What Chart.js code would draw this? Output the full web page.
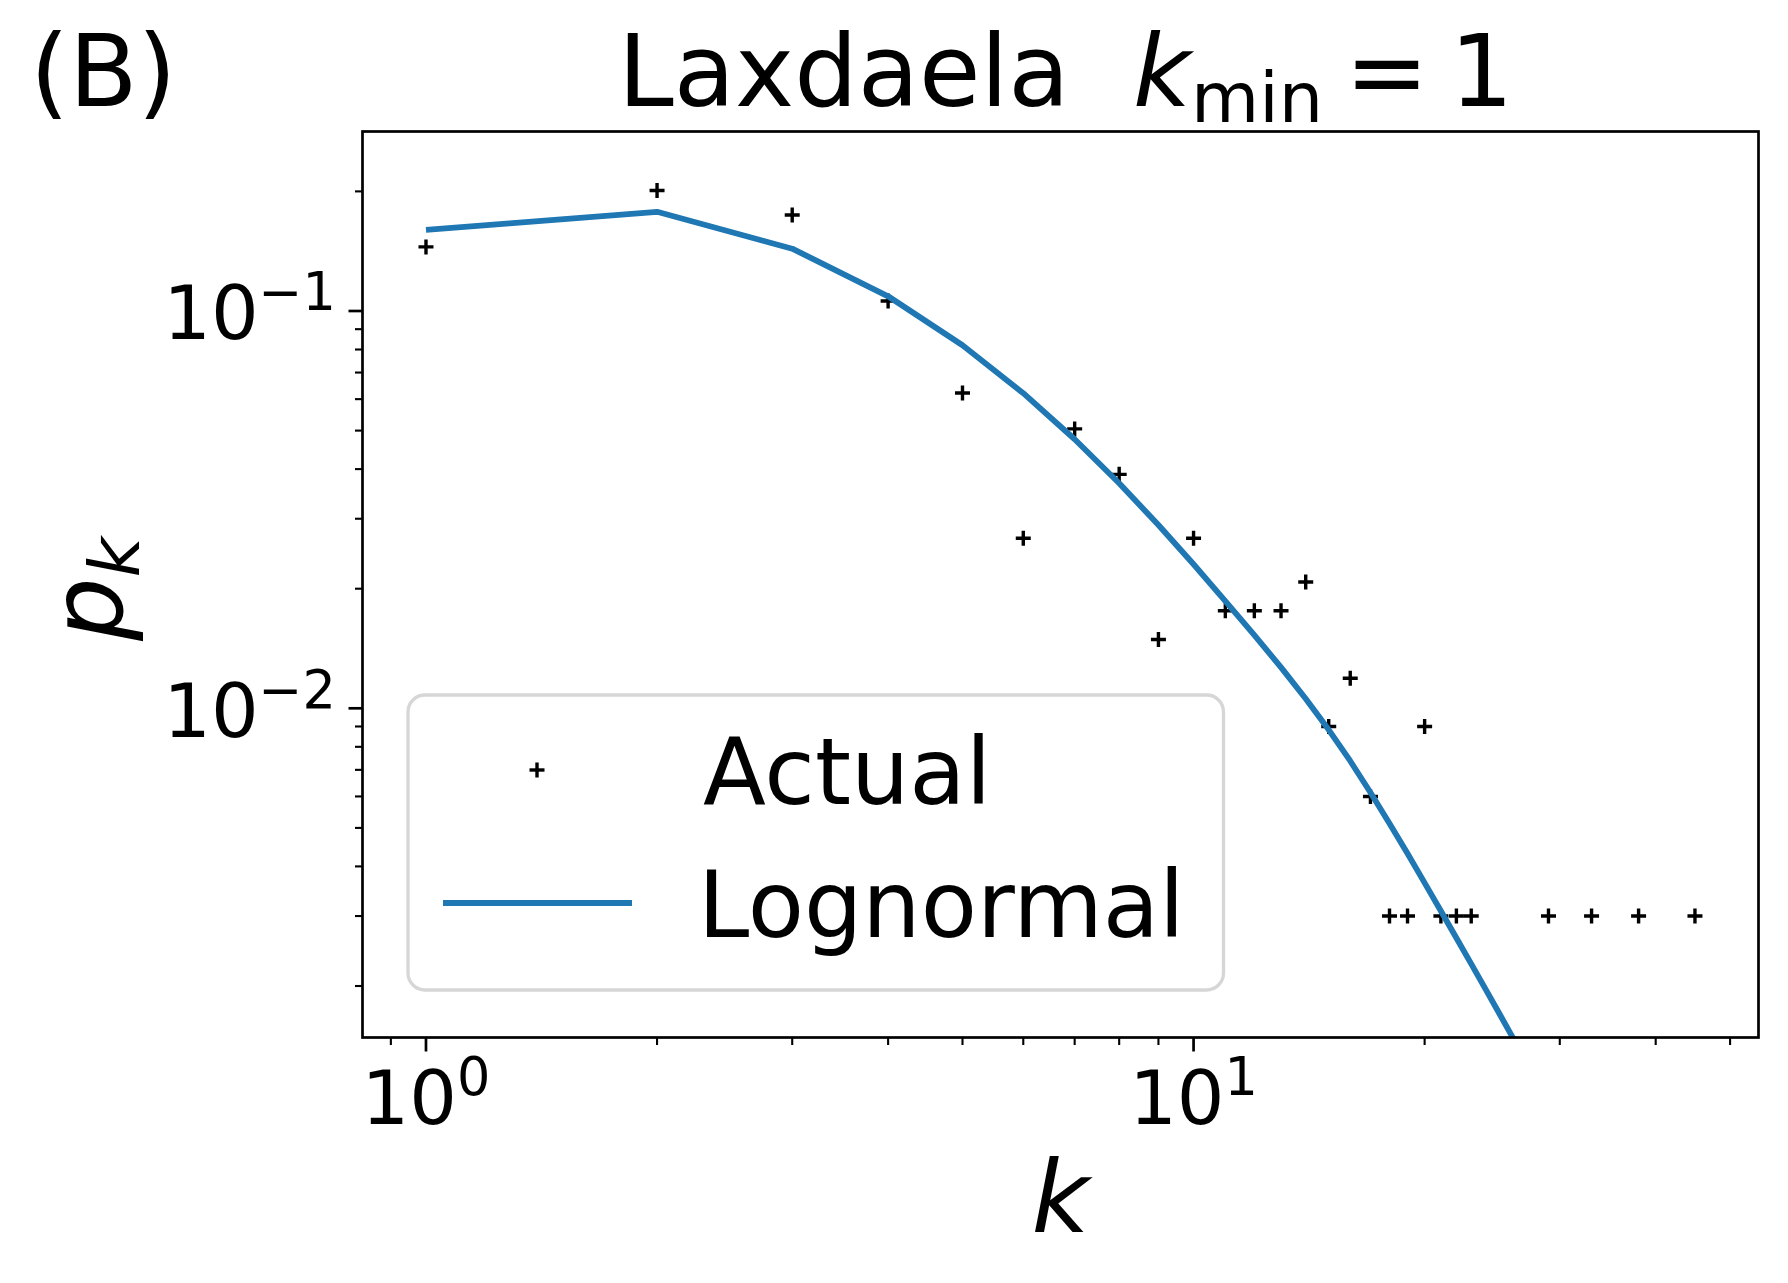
<!DOCTYPE html>
<html>
<head>
<meta charset="utf-8">
<script src="https://cdn.jsdelivr.net/npm/chart.js@4.4.1/dist/chart.umd.min.js"></script>
<style>
html,body{margin:0;padding:0;background:#ffffff;overflow:hidden}
canvas{display:block}
</style>
</head>
<body>
<canvas id="c" width="1788" height="1283" style="width:1788px;height:1283px"></canvas>
<script>
// ---------------- data ----------------
const panelLabel = '(B)';
const titleName = 'Laxdaela';
const seriesNames = ['Actual', 'Lognormal'];

const actualK = [1, 2, 3, 4, 5, 6, 7, 8, 9, 10, 11, 12, 13, 14, 15, 16, 17, 18, 19, 20, 21, 22, 23, 29, 33, 38, 45];
const actualP = [0.145, 0.201, 0.1745, 0.106, 0.0622, 0.0268, 0.0505, 0.0388, 0.0149, 0.0268,
                 0.0176, 0.0176, 0.0176, 0.0208, 0.0090, 0.0119, 0.0060, 0.0030, 0.0030, 0.0090,
                 0.0030, 0.0030, 0.0030, 0.0030, 0.0030, 0.0030, 0.0030];

const lognormalK = [1, 2, 3, 4, 5, 6, 7, 8, 9, 10, 11, 12, 13, 14, 15, 16, 17, 18, 19, 20, 21, 22, 23, 24, 25, 26, 27];
const lognormalP = [0.1600, 0.1777, 0.1435, 0.1089, 0.0820, 0.0621, 0.04756, 0.03686, 0.02893, 0.02304,
                    0.01862, 0.01528, 0.01268, 0.01057, 0.00883, 0.00737, 0.00614, 0.00513, 0.00431, 0.003636,
                    0.00309, 0.002642, 0.002274, 0.001967, 0.00171, 0.001493, 0.001308];

const xLimits = [0.8266, 54.45];
const yLimits = [0.001484, 0.283];

const xMajorTicks = [1, 10];
const xMajorLabels = [['10', '0'], ['10', '1']];
const xMinorTicks = [0.9, 2, 3, 4, 5, 6, 7, 8, 9, 20, 30, 40, 50];
const yMajorTicks = [0.1, 0.01];
const yMajorLabels = [['10', '\u22121'], ['10', '\u22122']];
const yMinorTicks = [0.002, 0.003, 0.004, 0.005, 0.006, 0.007, 0.008, 0.009,
                     0.02, 0.03, 0.04, 0.05, 0.06, 0.07, 0.08, 0.09, 0.2];

// ---------------- drawing helpers ----------------
const FONT = '"DejaVu Sans", "Liberation Sans", sans-serif';
const BLUE = '#1f77b4';

function seg(ctx, x1, y1, x2, y2, w) {
  ctx.beginPath();
  ctx.lineWidth = w;
  ctx.moveTo(x1, y1);
  ctx.lineTo(x2, y2);
  ctx.stroke();
}

const decor = {
  id: 'decor',
  afterDraw(chart) {
    const ctx = chart.ctx;
    const a = chart.chartArea;
    const xs = chart.scales.x, ys = chart.scales.y;
    ctx.save();
    ctx.strokeStyle = '#000';
    ctx.fillStyle = '#000';
    ctx.lineCap = 'butt';

    // frame
    ctx.lineWidth = 2.7;
    ctx.strokeRect(a.left, a.top, a.right - a.left, a.bottom - a.top);

    // ticks
    xMajorTicks.forEach(v => { const p = xs.getPixelForValue(v); seg(ctx, p, a.bottom, p, a.bottom + 14, 2.7); });
    xMinorTicks.forEach(v => { const p = xs.getPixelForValue(v); seg(ctx, p, a.bottom, p, a.bottom + 7.5, 2.1); });
    yMajorTicks.forEach(v => { const p = ys.getPixelForValue(v); seg(ctx, a.left - 14, p, a.left, p, 2.7); });
    yMinorTicks.forEach(v => { const p = ys.getPixelForValue(v); seg(ctx, a.left - 7.5, p, a.left, p, 2.1); });

    // tick labels (base + superscript)
    const baseFont = '75px ' + FONT, supFont = '52.5px ' + FONT;
    ctx.textAlign = 'left';
    ctx.textBaseline = 'alphabetic';
    xMajorTicks.forEach((v, i) => {
      const p = xs.getPixelForValue(v);
      ctx.font = baseFont; const wb = ctx.measureText(xMajorLabels[i][0]).width;
      ctx.font = supFont; const ws = ctx.measureText(xMajorLabels[i][1]).width;
      const x0 = p - (wb + ws) / 2;
      ctx.font = baseFont; ctx.fillText(xMajorLabels[i][0], x0, a.bottom + 86.5);
      ctx.font = supFont; ctx.fillText(xMajorLabels[i][1], x0 + wb, a.bottom + 57.5);
    });
    yMajorTicks.forEach((v, i) => {
      const p = ys.getPixelForValue(v);
      ctx.font = baseFont; const wb = ctx.measureText(yMajorLabels[i][0]).width;
      ctx.font = supFont; const ws = ctx.measureText(yMajorLabels[i][1]).width;
      const x0 = a.left - 26.5 - wb - ws;
      ctx.font = baseFont; ctx.fillText(yMajorLabels[i][0], x0, p + 28.5);
      ctx.font = supFont; ctx.fillText(yMajorLabels[i][1], x0 + wb, p - 0.5);
    });

    // x axis label
    ctx.font = 'italic 100px ' + FONT;
    ctx.textAlign = 'center';
    ctx.fillText('k', (a.left + a.right) / 2, 1232);

    // y axis label p_k (rotated)
    ctx.save();
    ctx.translate(122, 641);
    ctx.rotate(-Math.PI / 2);
    ctx.textAlign = 'left';
    ctx.font = 'italic 100px ' + FONT;
    ctx.fillText('p', 0, 0);
    const wp = ctx.measureText('p').width;
    ctx.font = 'italic 70px ' + FONT;
    ctx.fillText('k', wp, 17);
    ctx.restore();

    // panel label
    ctx.textAlign = 'left';
    ctx.font = '100px ' + FONT;
    ctx.fillText(panelLabel, 30, 106);

    // title: "Laxdaela  k_min = 1"
    let x = 618;
    ctx.font = '100px ' + FONT;
    ctx.fillText(titleName, x, 106);
    x += ctx.measureText(titleName + '  ').width;
    ctx.font = 'italic 100px ' + FONT;
    ctx.fillText('k', x, 106);
    x += ctx.measureText('k').width;
    ctx.font = '70px ' + FONT;
    ctx.fillText('min', x, 122);
    x += ctx.measureText('min').width + 22;
    ctx.font = '100px ' + FONT;
    ctx.fillText('=', x, 106);
    x += ctx.measureText('=').width + 21;
    ctx.fillText('1', x, 106);

    // legend box
    ctx.beginPath();
    ctx.roundRect(408, 695, 815.5, 295, 17);
    ctx.fillStyle = 'rgba(255,255,255,0.8)';
    ctx.fill();
    ctx.lineWidth = 3.3;
    ctx.strokeStyle = 'rgba(204,204,204,0.8)';
    ctx.stroke();

    // legend handles
    ctx.strokeStyle = '#000';
    seg(ctx, 537 - 7.5, 770, 537 + 7.5, 770, 3.4);
    seg(ctx, 537, 770 - 7.5, 537, 770 + 7.5, 3.4);
    ctx.strokeStyle = BLUE;
    seg(ctx, 443, 903, 632, 903, 5.8);

    // legend texts
    ctx.fillStyle = '#000';
    ctx.font = '92px ' + FONT;
    ctx.textAlign = 'left';
    ctx.fillText(seriesNames[0], 703, 804);
    ctx.fillText(seriesNames[1], 698, 937);

    ctx.restore();
  }
};

// ---------------- chart ----------------
const ctx = document.getElementById('c').getContext('2d');
new Chart(ctx, {
  type: 'scatter',
  data: {
    datasets: [
      {
        label: seriesNames[1],
        data: lognormalK.map((k, i) => ({ x: k, y: lognormalP[i] })),
        showLine: true,
        borderColor: BLUE,
        backgroundColor: BLUE,
        borderWidth: 5.8,
        borderJoinStyle: 'round',
        pointRadius: 0,
        tension: 0,
        fill: false,
        clip: 0,
        order: 0
      },
      {
        label: seriesNames[0],
        data: actualK.map((k, i) => ({ x: k, y: actualP[i] })),
        showLine: false,
        pointStyle: 'cross',
        pointRadius: 7.5,
        pointBorderWidth: 3.4,
        borderWidth: 3.4,
        pointBorderColor: '#000',
        borderColor: '#000',
        backgroundColor: '#000',
        order: 1
      }
    ]
  },
  options: {
    responsive: false,
    animation: false,
    devicePixelRatio: 1,
    events: [],
    layout: { padding: { left: 362.5, top: 131.5, right: 29.5, bottom: 245.5 } },
    scales: {
      x: { type: 'logarithmic', min: xLimits[0], max: xLimits[1], display: false },
      y: { type: 'logarithmic', min: yLimits[0], max: yLimits[1], display: false }
    },
    plugins: {
      legend: { display: false },
      tooltip: { enabled: false },
      title: { display: false }
    }
  },
  plugins: [decor]
});
</script>
</body>
</html>
